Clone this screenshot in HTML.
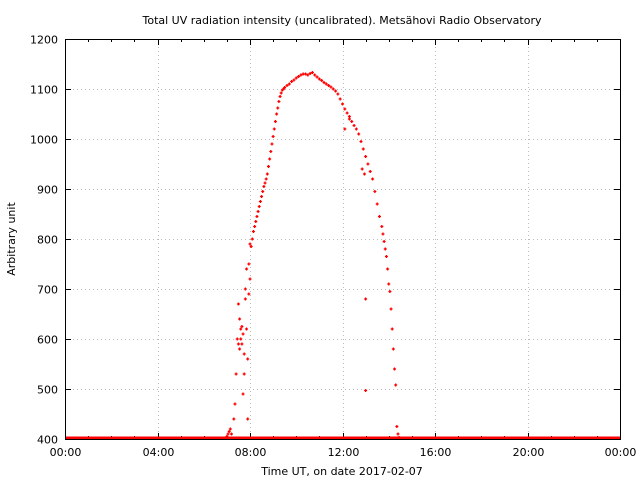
<!DOCTYPE html>
<html><head><meta charset="utf-8"><style>
html,body{margin:0;padding:0;background:#fff;width:640px;height:480px;overflow:hidden}
svg text{font-family:"DejaVu Sans","Liberation Sans",sans-serif;font-size:11px;fill:#000}
</style></head><body>
<svg id="chart" width="640" height="480" xmlns="http://www.w3.org/2000/svg">
<text x="342" y="24" text-anchor="middle">Total UV radiation intensity (uncalibrated). Metsähovi Radio Observatory</text>
<text x="342" y="475" text-anchor="middle">Time UT, on date 2017-02-07</text>
<text transform="translate(15,239) rotate(-90)" text-anchor="middle">Arbitrary unit</text>
<g id="grid"></g>
<g id="ticks"></g>
<g id="marks"></g>
<rect x="65.5" y="39.5" width="555" height="400" fill="none" stroke="#000" stroke-width="1"/>
</svg>
<script>
const yTicks=[400,500,600,700,800,900,1000,1100,1200];
const xTicks=[0,4,8,12,16,20,24];
const xTickLabels=["00:00","04:00","08:00","12:00","16:00","20:00","00:00"];
const baseHours=[0,7.0,14.5,24];
const baseValues=[400,400,400,400];
const riseHours=[7.0,7.05,7.1,7.15,7.2,7.3,7.35,7.4,7.45,7.5,7.5,7.55,7.55,7.6,7.6,7.65,7.65,7.7,7.7,7.75,7.75,7.8,7.8,7.85,7.85,7.9,7.9,7.95,7.95,8.0,8.0];
const riseValues=[405,410,415,420,410,440,470,530,600,670,590,640,580,620,600,625,590,610,490,570,530,680,700,740,620,560,440,750,690,790,720];
const mainHours=[8.05,8.1,8.15,8.2,8.25,8.3,8.35,8.4,8.45,8.5,8.55,8.6,8.65,8.7,8.75,8.8,8.85,8.9,8.95,9.0,9.05,9.1,9.15,9.2,9.25,9.3,9.35,9.4,9.45,9.5,9.6,9.7,9.8,9.9,10.0,10.1,10.2,10.3,10.4,10.5,10.6,10.7,10.8,10.9,11.0,11.1,11.2,11.3,11.4,11.5,11.6,11.7,11.8];
const mainValues=[785,800,815,825,835,845,855,865,875,885,895,905,912,920,930,945,960,975,990,1005,1020,1035,1050,1062,1075,1085,1092,1098,1100,1103,1107,1110,1115,1118,1122,1125,1128,1130,1130,1128,1131,1133,1128,1124,1120,1117,1113,1110,1107,1104,1100,1096,1090];
const fallHours=[11.9,12.0,12.1,12.2,12.3,12.4,12.5,12.6,12.7,12.8,12.9,13.0,13.1,13.2,13.3,13.4,13.5,13.6,13.7,13.75,13.8,13.85,13.9,13.95,14.0,14.05,14.1,14.15,14.2,14.25,14.3,14.35,14.4,14.45];
const fallValues=[1080,1070,1060,1052,1045,1035,1027,1020,1010,995,980,965,950,935,920,895,870,845,825,810,795,780,765,740,710,695,660,620,580,540,508,425,410,403];
const outlierHours=[12.1,12.3,12.85,12.95,13.0,13.0];
const outlierValues=[1020,1040,940,930,680,497];
const X=h=>65+h/24*555;
const Y=v=>439-(v-400)/800*400;
const NS="http://www.w3.org/2000/svg";
const grid=document.getElementById('grid'),ticks=document.getElementById('ticks'),marks=document.getElementById('marks');
function mk(tag,attrs,parent){const e=document.createElementNS(NS,tag);for(const k in attrs)e.setAttribute(k,attrs[k]);parent.appendChild(e);return e;}
yTicks.forEach((v,i)=>{
  const y=Math.round(Y(v))+0.5;
  if(i>0&&i<yTicks.length-1){const g=mk('line',{x1:65,x2:620,y1:y,y2:y,stroke:'#bbb','stroke-dasharray':'1,3'},grid);
  
  }
  const t=mk('line',{x1:65,x2:71,y1:y,y2:y,stroke:'#000'},ticks);
  
  
  mk('line',{x1:614,x2:620,y1:y,y2:y,stroke:'#000'},ticks);
  const l=mk('text',{x:58,y:y+4,'text-anchor':'end'},ticks);l.textContent=v;
  
  
});
for(let h=0;h<=24;h++){
  const x=Math.round(X(h))+0.5;
  const len=h%4===0?6:3;
  mk('line',{x1:x,x2:x,y1:439,y2:439-len,stroke:'#000'},ticks);
  mk('line',{x1:x,x2:x,y1:39,y2:39+len,stroke:'#000'},ticks);
}
xTicks.forEach((h,i)=>{
  const x=Math.round(X(h))+0.5;
  if(i>0&&i<xTicks.length-1){const g=mk('line',{x1:x,x2:x,y1:39,y2:439,stroke:'#bbb','stroke-dasharray':'1,3'},grid);
  
  }
  const l=mk('text',{x:x,y:456,'text-anchor':'middle'},ticks);l.textContent=xTickLabels[i];
  
  
});
const base=mk('polyline',{points:baseHours.map((h,i)=>X(h)+','+(Y(baseValues[i])-1)).join(' '),fill:'none',stroke:'#f00','stroke-width':3},marks);


function plot(hs,vs){
  hs.forEach((h,i)=>{
    const x=X(h),y=Y(vs[i]);
    const p=mk('path',{d:`M${x-1.5},${y}h3M${x},${y-1.5}v3`,stroke:'#f00','stroke-width':1.3},marks);
    
    
  });
}
plot(riseHours,riseValues);
plot(mainHours,mainValues);
plot(fallHours,fallValues);
plot(outlierHours,outlierValues);
</script>
</body></html>
